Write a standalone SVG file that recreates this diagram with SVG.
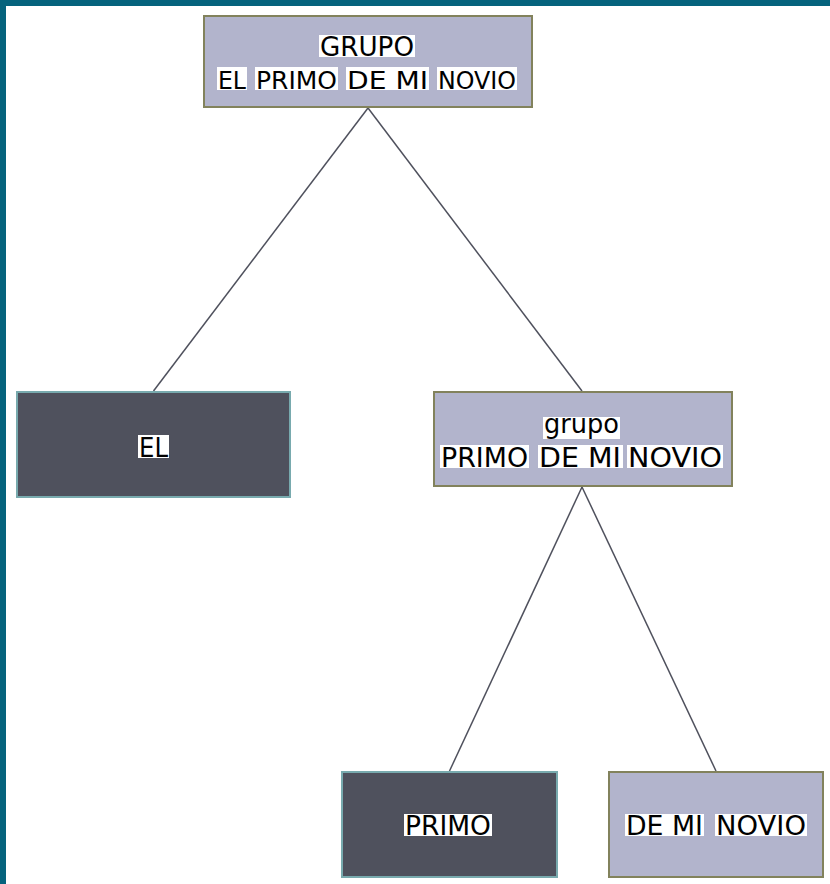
<svg xmlns="http://www.w3.org/2000/svg" width="830" height="884" viewBox="0 0 830 884">
<style>
.light{fill:#b2b4cc;stroke:#82825c;stroke-width:2}
.dark{fill:#4f515d;stroke:#78aaae;stroke-width:2}
.hl{fill:#ffffff}
.t{font-family:"DejaVu Sans",Verdana,sans-serif;font-size:26px;fill:#000000}
.s{font-size:25px}
.conn line{stroke:#4f515d;stroke-width:1.5}
</style>
<rect x="0" y="0" width="830" height="884" fill="#ffffff"/>
<rect x="0" y="0" width="830" height="6" fill="#05637d"/>
<rect x="0" y="0" width="6" height="884" fill="#05637d"/>
<g id="connectors" class="conn">
<line x1="368" y1="108" x2="153.5" y2="391"/>
<line x1="368" y1="108" x2="582" y2="391"/>
<line x1="582" y1="487" x2="449.5" y2="771"/>
<line x1="582" y1="487" x2="716" y2="771"/>
</g>
<g id="node-grupo-top">
<rect class="light" x="204" y="16" width="328" height="91"/>
<rect class="hl" x="319" y="35" width="96" height="22"/>
<text class="t" x="320" y="56" textLength="94" lengthAdjust="spacingAndGlyphs">GRUPO</text>
<rect class="hl" x="217" y="67" width="30" height="23"/>
<rect class="hl" x="255" y="67" width="83" height="23"/>
<rect class="hl" x="346" y="67" width="83" height="23"/>
<rect class="hl" x="437" y="67" width="80" height="23"/>
<text class="t s" x="218" y="88.5" textLength="28" lengthAdjust="spacingAndGlyphs">EL</text>
<text class="t s" x="256" y="88.5" textLength="81" lengthAdjust="spacingAndGlyphs">PRIMO</text>
<text class="t s" x="347" y="88.5" textLength="81" lengthAdjust="spacingAndGlyphs">DE MI</text>
<text class="t s" x="438" y="88.5" textLength="78" lengthAdjust="spacingAndGlyphs">NOVIO</text>
</g>
<g id="node-el">
<rect class="dark" x="17" y="392" width="273" height="105"/>
<rect class="hl" x="138" y="435" width="31" height="23"/>
<text class="t" x="139" y="457" textLength="29" lengthAdjust="spacingAndGlyphs">EL</text>
</g>
<g id="node-grupo">
<rect class="light" x="434" y="392" width="298" height="94"/>
<rect class="hl" x="543" y="417" width="77" height="22"/>
<text class="t" x="544" y="433" textLength="75" lengthAdjust="spacingAndGlyphs">grupo</text>
<rect class="hl" x="440" y="445" width="89" height="23"/>
<rect class="hl" x="538" y="445" width="85" height="23"/>
<rect class="hl" x="627" y="445" width="96" height="23"/>
<text class="t" x="441" y="467" textLength="87" lengthAdjust="spacingAndGlyphs">PRIMO</text>
<text class="t" x="539" y="467" textLength="82" lengthAdjust="spacingAndGlyphs">DE MI</text>
<text class="t" x="628" y="467" textLength="94" lengthAdjust="spacingAndGlyphs">NOVIO</text>
</g>
<g id="node-primo">
<rect class="dark" x="342" y="772" width="215" height="105"/>
<rect class="hl" x="404" y="814" width="88" height="22"/>
<text class="t" x="405" y="835" textLength="86" lengthAdjust="spacingAndGlyphs">PRIMO</text>
</g>
<g id="node-de-mi-novio">
<rect class="light" x="609" y="772" width="214" height="105"/>
<rect class="hl" x="625" y="814" width="79" height="22"/>
<rect class="hl" x="715" y="814" width="92" height="22"/>
<text class="t" x="626" y="835" textLength="77" lengthAdjust="spacingAndGlyphs">DE MI</text>
<text class="t" x="716" y="835" textLength="90" lengthAdjust="spacingAndGlyphs">NOVIO</text>
</g>
</svg>
